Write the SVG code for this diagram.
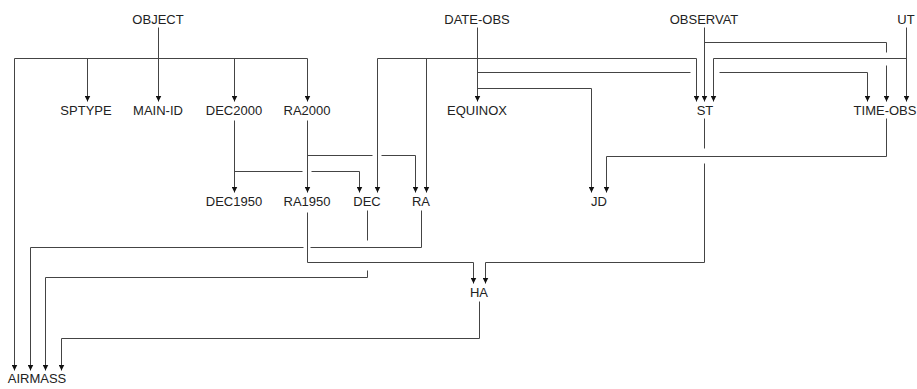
<svg xmlns="http://www.w3.org/2000/svg" width="917" height="389" viewBox="0 0 917 389">
<style>
  text { font-family: "Liberation Sans", Arial, sans-serif; font-size: 13px; fill: #222; text-anchor: middle; }
  .c { fill: none; stroke: #444; stroke-width: 1; }
  .a { marker-end: url(#ah); }
</style>
<defs>
  <marker id="ah" markerUnits="userSpaceOnUse" markerWidth="6" markerHeight="6" viewBox="0 0 6 6" refX="6" refY="3" orient="auto">
    <path d="M0,0 L6,3 L0,6 z" fill="#111"/>
  </marker>
</defs>
<rect width="917" height="389" fill="#ffffff"/>
<g id="connectors" transform="translate(0.5,0.5)">
  <!-- OBJECT -->
  <path class="c a" d="M158,27 V101"/>
  <path class="c" d="M14,58 H307"/>
  <path class="c a" d="M14,58 V370"/>
  <path class="c a" d="M87,58 V101"/>
  <path class="c a" d="M234,58 V101"/>
  <path class="c a" d="M307,58 V101"/>
  <!-- DATE-OBS -->
  <path class="c a" d="M477,27 V101"/>
  <path class="c a" d="M377,58 H696 V101"/>
  <path class="c a" d="M377,58 V192"/>
  <path class="c a" d="M426,58 V192"/>
  <path class="c a" d="M477,72 H690 M719,72 H867 V101"/>
  <path class="c a" d="M477,88 H591 V192"/>
  <!-- OBSERVAT -->
  <path class="c a" d="M704,27 V101"/>
  <path class="c a" d="M704,42 H886 V52 M886,65 V101"/>
  <!-- UT -->
  <path class="c a" d="M906,27 V101"/>
  <path class="c a" d="M906,58 H713 V101"/>
  <!-- DEC2000 -->
  <path class="c a" d="M234,120 V192"/>
  <path class="c a" d="M234,171 H302 M311,171 H359 V192"/>
  <!-- RA2000 -->
  <path class="c a" d="M307,120 V192"/>
  <path class="c a" d="M307,155 H372 M381,155 H415 V192"/>
  <!-- ST -->
  <path class="c a" d="M704,118 V148 M704,163 V262 H485 V283"/>
  <!-- TIME-OBS -->
  <path class="c a" d="M886,118 V156 H606 V192"/>
  <!-- RA1950 -->
  <path class="c a" d="M307,212 V262 H473 V283"/>
  <!-- DEC -->
  <path class="c a" d="M367,210 V240 M367,270 V277 H45 V370"/>
  <!-- RA -->
  <path class="c a" d="M421,210 V247 H310 M303,247 H30 V370"/>
  <!-- HA -->
  <path class="c a" d="M479,301 V338 H61 V370"/>
</g>
<g id="OBJECT"><text x="158" y="24">OBJECT</text></g>
<g id="DATE-OBS"><text x="477" y="24">DATE-OBS</text></g>
<g id="OBSERVAT"><text x="704" y="24">OBSERVAT</text></g>
<g id="UT"><text x="906" y="24">UT</text></g>
<g id="SPTYPE"><text x="86" y="115">SPTYPE</text></g>
<g id="MAIN-ID"><text x="158" y="115">MAIN-ID</text></g>
<g id="DEC2000"><text x="234" y="115">DEC2000</text></g>
<g id="RA2000"><text x="307" y="115">RA2000</text></g>
<g id="EQUINOX"><text x="477" y="115">EQUINOX</text></g>
<g id="ST"><text x="705" y="115">ST</text></g>
<g id="TIME-OBS"><text x="885" y="115">TIME-OBS</text></g>
<g id="DEC1950"><text x="234" y="206">DEC1950</text></g>
<g id="RA1950"><text x="307" y="206">RA1950</text></g>
<g id="DEC"><text x="367" y="206">DEC</text></g>
<g id="RA"><text x="421" y="206">RA</text></g>
<g id="JD"><text x="599" y="206">JD</text></g>
<g id="HA"><text x="479" y="297">HA</text></g>
<g id="AIRMASS"><text x="37" y="383">AIRMASS</text></g>
</svg>
